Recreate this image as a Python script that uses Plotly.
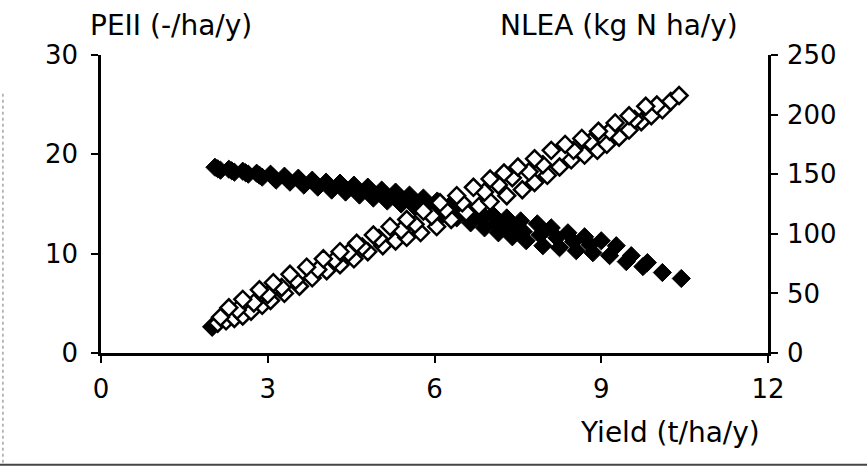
import plotly.graph_objects as go

# PEII (filled diamonds, left axis)
yield_peii = [2.05, 2.3, 2.55, 2.8, 3.05, 3.3, 3.55, 3.8, 4.05, 4.3, 4.55, 4.8, 5.05, 5.3, 5.55, 5.8,
              6.05, 6.3, 6.55, 6.8, 7.05, 7.3, 7.55, 7.85, 8.1, 8.4, 8.7, 9.0, 9.27, 9.54, 9.83, 10.1, 10.44,
              2.15, 2.4, 2.65, 2.9, 3.15, 3.4, 3.65, 3.9, 4.15, 4.4, 4.65, 4.9, 5.15, 5.4, 5.65, 5.9,
              6.15, 6.4, 6.65, 6.9, 7.15, 7.4, 7.65, 7.95, 8.25, 8.55, 8.85, 9.15, 9.45, 9.75,
              2.1, 2.35, 2.6, 2.85, 3.1, 3.35, 3.6, 3.85, 4.1, 4.35, 4.6, 4.85, 5.1, 5.35, 5.6, 5.85,
              6.1, 6.35, 6.6, 6.85, 7.1, 7.35, 7.6, 7.9, 8.2, 8.5, 8.8]
peii = [18.7, 18.5, 18.3, 18.1, 18.0, 17.8, 17.6, 17.4, 17.2, 17.1, 16.9, 16.7, 16.4, 16.2, 15.9, 15.6,
        15.3, 15.0, 14.7, 14.3, 13.9, 13.6, 13.3, 13.0, 12.6, 12.1, 11.7, 11.3, 10.8, 9.8, 9.1, 8.1, 7.5,
        18.4, 18.2, 18.0, 17.7, 17.4, 17.2, 16.9, 16.7, 16.4, 16.2, 15.9, 15.6, 15.3, 15.0, 14.7, 14.4,
        14.0, 13.6, 13.1, 12.6, 12.1, 11.7, 11.3, 10.8, 10.6, 10.3, 10.1, 9.8, 9.2, 8.7,
        18.55, 18.35, 18.15, 17.9, 17.7, 17.5, 17.25, 17.05, 16.8, 16.65, 16.4, 16.15, 15.85, 15.6, 15.3, 15.0,
        14.65, 14.3, 13.9, 13.5, 13.0, 12.6, 12.2, 11.9, 11.6, 11.2, 10.9]

# NLEA (open diamonds, right axis)
yield_nlea = [2.0, 2.1, 2.25, 2.4, 2.55, 2.7, 2.9, 3.05, 3.3, 3.57, 3.8, 4.06, 4.3, 4.55, 4.8, 5.07,
              5.3, 5.5, 5.75, 6.04, 6.3, 6.57, 6.8, 7.0, 7.3, 7.58, 7.8, 8.03, 8.25, 8.46, 8.7, 8.93,
              9.1, 9.32, 9.5, 9.72, 9.9, 10.1,
              2.15, 2.45, 2.75, 3.0, 3.25, 3.5, 3.9, 4.2, 4.45, 4.7, 5.0, 5.4, 5.65, 5.95, 6.2, 6.5,
              6.9, 7.15, 7.4, 7.7, 7.95, 8.5, 8.8, 9.15, 9.6, 10.0, 10.25,
              2.3, 2.55, 2.85, 3.1, 3.4, 3.7, 4.0, 4.3, 4.6, 4.9, 5.2, 5.5, 5.8, 6.1, 6.4, 6.7,
              7.0, 7.25, 7.5, 7.8, 8.1, 8.35, 8.65, 8.95, 9.25, 9.5, 9.8, 10.4]
nlea = [22, 25, 27, 29, 31, 35, 40, 44, 50, 56, 63, 69, 74, 79, 85, 90,
        94, 97, 101, 106, 112, 118, 123, 127, 132, 137, 143, 149, 156, 162, 166, 170,
        175, 181, 187, 194, 199, 204,
        30, 36, 42, 49, 55, 61, 70, 78, 84, 89, 96, 103, 108, 115, 120, 126,
        135, 141, 147, 152, 158, 170, 177, 186, 196, 208, 211,
        38, 45, 53, 59, 66, 72, 79, 85, 92, 99, 106, 112, 119, 126, 132, 139,
        146, 151, 156, 163, 170, 175, 180, 186, 193, 199, 207, 216]

x_ticks = [0, 3, 6, 9, 12]
left_ticks = [0, 10, 20, 30]
right_ticks = [0, 50, 100, 150, 200, 250]

FONT = "DejaVu Sans, Liberation Sans, Arial, sans-serif"
FS = 26
FS_TITLE = 28
fill_colors = ["black"] + ["white"] * (len(nlea) - 1)

fig = go.Figure()
fig.add_trace(go.Scatter(
    x=yield_peii, y=peii, mode="markers", yaxis="y",
    marker=dict(symbol="diamond", size=14, color="black", line=dict(color="black", width=1)),
    showlegend=False))
fig.add_trace(go.Scatter(
    x=yield_nlea, y=nlea, mode="markers", yaxis="y2",
    marker=dict(symbol="diamond", size=13, color=fill_colors, line=dict(color="black", width=2.5)),
    showlegend=False))

axis_common = dict(showline=True, linecolor="black", linewidth=2.5, showgrid=False, zeroline=False,
                   ticks="outside", tickcolor="black", tickwidth=2, ticklen=7,
                   tickfont=dict(family=FONT, size=FS, color="black"))

fig.update_layout(
    width=867, height=469,
    margin=dict(l=101, r=99, t=55, b=116),
    paper_bgcolor="white", plot_bgcolor="white",
    font=dict(family=FONT, color="black"),
    xaxis=dict(range=[0, 12], tickvals=x_ticks, ticklabelstandoff=4, **axis_common),
    yaxis=dict(range=[0, 30], tickvals=left_ticks, ticklabelstandoff=8, **axis_common),
    yaxis2=dict(range=[0, 250], tickvals=right_ticks, overlaying="y", side="right",
                ticklabelstandoff=4, **axis_common),
    annotations=[
        dict(text="PEII (-/ha/y)", xref="paper", yref="paper", x=-0.0195, y=1.10,
             xanchor="left", yanchor="middle", showarrow=False, font=dict(family=FONT, size=FS_TITLE)),
        dict(text="NLEA (kg N ha/y)", xref="paper", yref="paper", x=0.958, y=1.10,
             xanchor="right", yanchor="middle", showarrow=False, font=dict(family=FONT, size=FS_TITLE)),
        dict(text="Yield (t/ha/y)", xref="paper", yref="paper", x=0.991, y=-0.268,
             xanchor="right", yanchor="middle", showarrow=False, font=dict(family=FONT, size=FS_TITLE)),
    ],
    shapes=[
        dict(type="line", xref="paper", yref="paper", x0=-0.147, x1=-0.147, y0=0.87, y1=-0.37,
             line=dict(color="#777777", width=1, dash="dot")),
        dict(type="line", xref="paper", yref="paper", x0=-0.152, x1=1.15, y0=-0.375, y1=-0.375,
             line=dict(color="#444444", width=2)),
    ],
)

fig.write_html("out.html", config={"displayModeBar": False},
               post_script="document.body.style.margin='0';")
